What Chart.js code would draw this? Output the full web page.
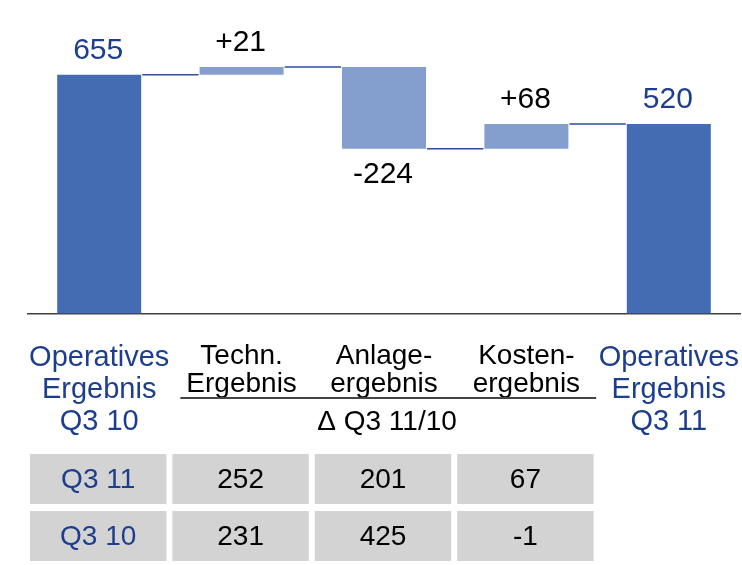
<!DOCTYPE html>
<html>
<head>
<meta charset="utf-8">
<script src="https://cdn.jsdelivr.net/npm/chart.js@4.4.1/dist/chart.umd.min.js"></script>
<style>
html,body{margin:0;padding:0;background:#fff;}
#wrap{width:742px;height:565px;position:relative;}
</style>
</head>
<body>
<div id="wrap"><canvas id="c" width="742" height="565"></canvas></div>
<script>
// ---- data ----
const categories = [
  ["Operatives", "Ergebnis", "Q3 10"],
  ["Techn.", "Ergebnis"],
  ["Anlage-", "ergebnis"],
  ["Kosten-", "ergebnis"],
  ["Operatives", "Ergebnis", "Q3 11"]
];
const startTotal = 655;
const deltas = [21, -224, 68];
const endTotal = 520;
const groupLabel = "Δ Q3 11/10";
const tableRowLabels = ["Q3 11", "Q3 10"];
const technErgebnis = [252, 231];
const anlageErgebnis = [201, 425];
const kostenErgebnis = [67, -1];

// ---- derived ----
const ranges = [[0, startTotal]];
let running = startTotal;
deltas.forEach(d => { ranges.push([running, running + d]); running += d; });
ranges.push([0, endTotal]);
const isTotal = i => i === 0 || i === ranges.length - 1;
const valueLabels = [String(startTotal)]
  .concat(deltas.map(d => (d > 0 ? "+" : "") + d))
  .concat([String(endTotal)]);
const tableCols = [tableRowLabels, technErgebnis, anlageErgebnis, kostenErgebnis];

const DARK = "#436cb2";
const LIGHT = "#849fcd";
const BLUE_TEXT = "#1d3d8f";
const LINE_BLUE = "#2d4e9e";
const FONT = "'Liberation Sans', Arial, sans-serif";

const overlay = {
  id: "overlay",
  afterDraw(chart) {
    const ctx = chart.ctx;
    const xs = chart.scales.x;
    const ys = chart.scales.y;
    const bars = chart.getDatasetMeta(0).data;
    ctx.save();
    // connectors
    ctx.strokeStyle = LINE_BLUE;
    ctx.lineWidth = 1.5;
    for (let i = 0; i < bars.length - 1; i++) {
      const y = ys.getPixelForValue(ranges[i][1]);
      const x1 = bars[i].x + bars[i].width / 2 + 1;
      const x2 = bars[i + 1].x - bars[i + 1].width / 2 - 1;
      ctx.beginPath();
      ctx.moveTo(x1, y);
      ctx.lineTo(x2, y);
      ctx.stroke();
    }
    // value labels
    ctx.font = "30px " + FONT;
    ctx.textAlign = "center";
    ctx.textBaseline = "alphabetic";
    bars.forEach((b, i) => {
      const top = Math.min(b.y, b.base);
      const bottom = Math.max(b.y, b.base);
      const v = ranges[i][1] - ranges[i][0];
      ctx.fillStyle = isTotal(i) ? BLUE_TEXT : "#000";
      if (v >= 0) ctx.fillText(valueLabels[i], b.x - 1, top - 16);
      else ctx.fillText(valueLabels[i], b.x - 1, bottom + 34);
    });
    // group underline + label
    const cw = (xs.getPixelForValue(1) - xs.getPixelForValue(0));
    const ulLeft = xs.getPixelForValue(1) - cw * 0.43;
    const ulRight = xs.getPixelForValue(3) + cw * 0.49;
    ctx.strokeStyle = "#444";
    ctx.lineWidth = 2;
    ctx.beginPath();
    ctx.moveTo(ulLeft, 398);
    ctx.lineTo(ulRight, 398);
    ctx.stroke();
    ctx.fillStyle = "#000";
    ctx.font = "28px " + FONT;
    ctx.textBaseline = "alphabetic";
    ctx.fillText(groupLabel, (xs.getPixelForValue(1) + xs.getPixelForValue(3)) / 2 + 3, 430);
    // table
    const rowTops = [454, 511];
    const rowH = 50;
    const cellW = cw - 6;
    tableCols.forEach((col, c) => {
      const cx = xs.getPixelForValue(c) - 1;
      col.forEach((val, r) => {
        ctx.fillStyle = "#d3d3d3";
        ctx.fillRect(cx - cellW / 2, rowTops[r], cellW, rowH);
        ctx.fillStyle = c === 0 ? BLUE_TEXT : "#000";
        ctx.font = "28px " + FONT;
        ctx.textBaseline = "middle";
        ctx.fillText(String(val), cx, rowTops[r] + rowH / 2 + 1);
      });
    });
    ctx.restore();
  }
};

new Chart(document.getElementById("c"), {
  type: "bar",
  data: {
    labels: categories,
    datasets: [{
      data: ranges,
      backgroundColor: ctx => isTotal(ctx.dataIndex) ? DARK : LIGHT,
      borderWidth: 0,
      barPercentage: 0.59,
      categoryPercentage: 1
    }]
  },
  options: {
    responsive: false,
    animation: false,
    devicePixelRatio: 1,
    layout: { padding: { left: 28, right: 2, top: 0, bottom: 0 } },
    plugins: { legend: { display: false }, tooltip: { enabled: false } },
    scales: {
      x: {
        grid: { display: false, drawTicks: false },
        border: { display: true, color: "#404040", width: 1.5 },
        ticks: {
          padding: 29,
          autoSkip: false,
          maxRotation: 0,
          minRotation: 0,
          color: ctx => isTotal(ctx.index) ? BLUE_TEXT : "#000",
          font: ctx => isTotal(ctx.index)
            ? { family: FONT, size: 29, lineHeight: 1.1 }
            : { family: FONT, size: 28, lineHeight: 1.0 }
        },
        afterFit: s => { s.height = 251.5; s.paddingLeft = 0; s.paddingRight = 0; }
      },
      y: { display: false, min: 0, max: 860 }
    }
  },
  plugins: [overlay]
});
</script>
</body>
</html>
